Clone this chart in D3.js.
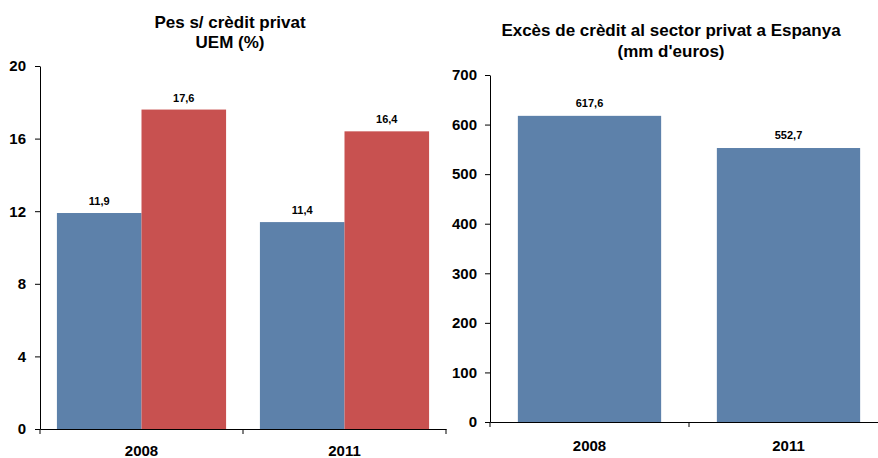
<!DOCTYPE html>
<html>
<head>
<meta charset="utf-8">
<script src="https://cdn.jsdelivr.net/npm/d3@7"></script>
<style>
  html, body { margin: 0; padding: 0; background: #fff; }
  svg { display: block; font-family: "Liberation Sans", Arial, sans-serif; }
  .axis path, .axis line { stroke: #000; }
  .axis text { font-weight: bold; fill: #000; }
</style>
</head>
<body>
<svg id="chart" width="878" height="458"></svg>
<script>
// ---- Data ----
const leftCategories = ["2008", "2011"];
const leftSeriesBlue = [11.9, 11.4];
const leftSeriesRed = [17.6, 16.4];
const leftTicks = [0, 4, 8, 12, 16, 20];
const leftTitle = ["Pes s/ crèdit privat", "UEM (%)"];

const rightCategories = ["2008", "2011"];
const rightValues = [617.6, 552.7];
const rightTicks = [0, 100, 200, 300, 400, 500, 600, 700];
const rightTitle = ["Excès de crèdit al sector privat a Espanya", "(mm d'euros)"];

const blue = "#5d81aa";
const red = "#c85150";
const fmt = v => d3.format(".1f")(v).replace(".", ",");

const svg = d3.select("#chart");

// ---- Left chart ----
{
  const x0 = d3.scaleBand().domain(leftCategories).range([40, 446]).paddingInner(0).paddingOuter(0);
  const x1 = d3.scaleBand().domain(["blue", "red"]).range([0, x0.bandwidth()]).paddingInner(0).paddingOuter(0.2);
  const y = d3.scaleLinear().domain([0, 20]).range([429, 66]);

  const rows = leftCategories.map((c, i) => ({cat: c, vals: [
    {key: "blue", v: leftSeriesBlue[i], color: blue},
    {key: "red", v: leftSeriesRed[i], color: red}
  ]}));

  const g = svg.append("g");
  const grp = g.selectAll("g.grp").data(rows).join("g")
    .attr("transform", d => `translate(${x0(d.cat)},0)`);
  grp.selectAll("rect").data(d => d.vals).join("rect")
    .attr("x", d => x1(d.key)).attr("width", x1.bandwidth())
    .attr("y", d => y(d.v)).attr("height", d => y(0) - y(d.v))
    .attr("fill", d => d.color);
  grp.selectAll("text").data(d => d.vals).join("text")
    .attr("x", d => x1(d.key) + x1.bandwidth() / 2)
    .attr("y", d => y(d.v) - 8)
    .attr("text-anchor", "middle")
    .attr("font-size", 11).attr("font-weight", "bold")
    .text(d => fmt(d.v));

  // y axis
  g.append("g").attr("class", "axis").attr("transform", "translate(40,0)")
    .call(d3.axisLeft(y).tickValues(leftTicks).tickSize(5).tickSizeOuter(0).tickPadding(9).tickFormat(d3.format("d")))
    .selectAll("text").attr("font-size", 15);

  // x axis
  const xa = g.append("g").attr("class", "axis").attr("transform", `translate(0,${y(0)})`);
  xa.call(d3.axisBottom(x0).tickSize(0).tickSizeOuter(0).tickPadding(16));
  xa.selectAll("text").attr("font-size", 15);
  const bounds = leftCategories.map(c => x0(c)).concat([x0.range()[1]]);
  xa.selectAll("line.sep").data(bounds).join("line").attr("class", "sep")
    .attr("x1", d => d).attr("x2", d => d).attr("y1", 0).attr("y2", 5).attr("stroke", "#000");

  // title
  svg.append("text").attr("x", 230).attr("y", 28).attr("text-anchor", "middle")
    .attr("font-size", 17).attr("font-weight", "bold").selectAll("tspan").data(leftTitle).join("tspan")
    .attr("x", 230).attr("dy", (d, i) => i === 0 ? 0 : 20).text(d => d);
}

// ---- Right chart ----
{
  const x = d3.scaleBand().domain(rightCategories).range([490, 888]).paddingInner(0.28).paddingOuter(0.14);
  const xb = d3.scaleBand().domain(rightCategories).range([490, 888]).padding(0);
  const y = d3.scaleLinear().domain([0, 700]).range([422, 75]);

  const g = svg.append("g");
  g.selectAll("rect").data(rightValues).join("rect")
    .attr("x", (d, i) => x(rightCategories[i])).attr("width", x.bandwidth())
    .attr("y", d => y(d)).attr("height", d => y(0) - y(d))
    .attr("fill", blue);
  g.selectAll("text.val").data(rightValues).join("text").attr("class", "val")
    .attr("x", (d, i) => x(rightCategories[i]) + x.bandwidth() / 2)
    .attr("y", d => y(d) - 9)
    .attr("text-anchor", "middle")
    .attr("font-size", 11).attr("font-weight", "bold")
    .text(d => fmt(d));

  g.append("g").attr("class", "axis").attr("transform", "translate(490,0)")
    .call(d3.axisLeft(y).tickValues(rightTicks).tickSize(5).tickSizeOuter(0).tickPadding(8).tickFormat(d3.format("d")))
    .selectAll("text").attr("font-size", 15);

  const xa = g.append("g").attr("class", "axis").attr("transform", `translate(0,${y(0)})`);
  xa.call(d3.axisBottom(xb).tickSize(0).tickSizeOuter(0).tickPadding(18));
  xa.selectAll("text").attr("font-size", 15);
  const bounds = rightCategories.map(c => xb(c)).concat([xb.range()[1]]);
  xa.selectAll("line.sep").data(bounds).join("line").attr("class", "sep")
    .attr("x1", d => d).attr("x2", d => d).attr("y1", 0).attr("y2", 5).attr("stroke", "#000");

  svg.append("text").attr("x", 671).attr("y", 36).attr("text-anchor", "middle")
    .attr("font-size", 17).attr("font-weight", "bold").selectAll("tspan").data(rightTitle).join("tspan")
    .attr("x", 671).attr("dy", (d, i) => i === 0 ? 0 : 21).text(d => d);
}
</script>
</body>
</html>
